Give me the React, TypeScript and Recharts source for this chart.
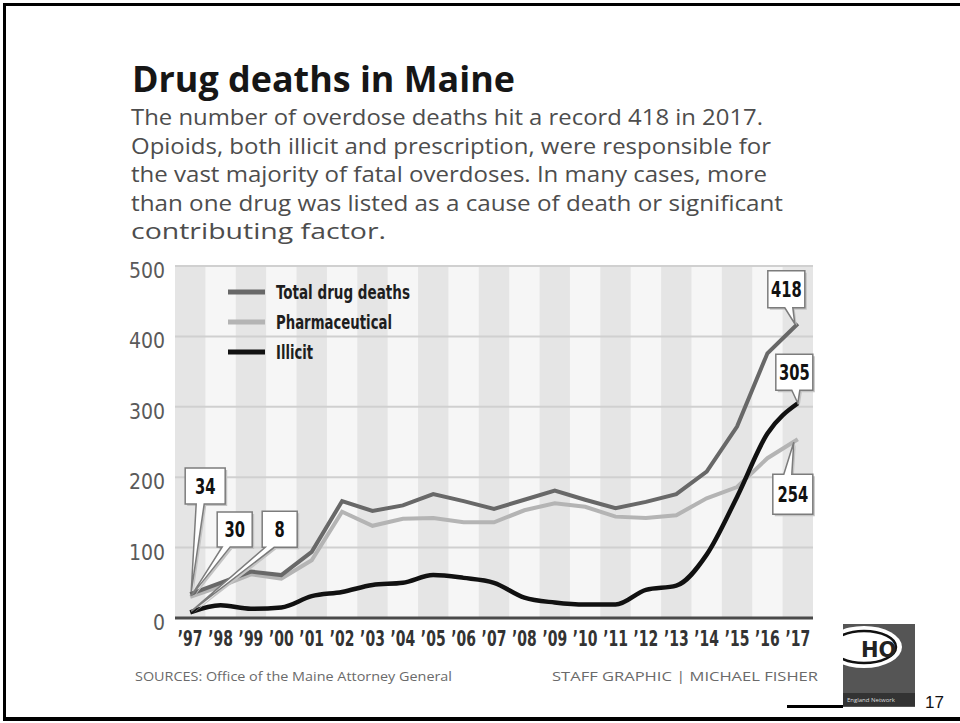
import React from 'react';
import { LineChart, Line, XAxis, YAxis, ReferenceArea, ReferenceLine, ReferenceDot, Legend } from 'recharts';

// ---------- data ----------
const YEARS = [1997, 1998, 1999, 2000, 2001, 2002, 2003, 2004, 2005, 2006, 2007, 2008, 2009, 2010, 2011, 2012, 2013, 2014, 2015, 2016, 2017];
const YEAR_LABELS = ['’97', '’98', '’99', '’00', '’01', '’02', '’03', '’04', '’05', '’06', '’07', '’08', '’09', '’10', '’11', '’12', '’13', '’14', '’15', '’16', '’17'];
const TOTAL = [34, 50, 66, 61, 94, 166, 152, 160, 176, 166, 155, 168, 181, 168, 156, 165, 176, 208, 272, 376, 418];
const PHARMA = [30, 45, 62, 56, 82, 151, 131, 141, 142, 136, 136, 153, 163, 158, 144, 142, 146, 170, 186, 227, 254];
const ILLICIT = [8, 18, 13, 15, 31, 37, 47, 50, 61, 57, 50, 29, 22, 19, 19, 40, 46, 90, 172, 262, 305];
const Y_TICKS = [0, 100, 200, 300, 400, 500];

const TITLE = 'Drug deaths in Maine';
const SUBTITLE_LINES = [
  'The number of overdose deaths hit a record 418 in 2017.',
  'Opioids, both illicit and prescription, were responsible for',
  'the vast majority of fatal overdoses. In many cases, more',
  'than one drug was listed as a cause of death or significant',
  'contributing factor.',
];
const SOURCE_TEXT = 'SOURCES: Office of the Maine Attorney General';
const CREDIT_TEXT = 'STAFF GRAPHIC | MICHAEL FISHER';
const PAGE_NUMBER = '17';

const SERIES = [
  { key: 'total', name: 'Total drug deaths', values: TOTAL },
  { key: 'pharma', name: 'Pharmaceutical', values: PHARMA },
  { key: 'illicit', name: 'Illicit', values: ILLICIT },
];

const data = YEARS.map((year, i) => ({ year, total: TOTAL[i], pharma: PHARMA[i], illicit: ILLICIT[i] }));

// ---------- styles ----------
const COLORS: Record<string, string> = { total: '#686868', pharma: '#b4b4b4', illicit: '#111111' };
const WIDTHS: Record<string, number> = { total: 4, pharma: 4, illicit: 4.5 };
const COND = "'DejaVu Sans Condensed', 'Liberation Sans Narrow', 'DejaVu Sans', sans-serif";
const SANS = "'Open Sans', 'Noto Sans', sans-serif";
const LEGEND_TEXT_LEN: Record<string, number> = { total: 134, pharma: 116, illicit: 37 };

// callout placement (pixel offsets relative to the data point)
const CALLOUTS = [
  { key: 'total', idx: 0, dx: -5, dy: -126, w: 40, h: 36, p1: 11, p2: 19, tx: 1, ty: -2, up: false },
  { key: 'pharma', idx: 0, dx: 27, dy: -85, w: 35, h: 35, p1: 5, p2: 13, tx: 1, ty: -1, up: false },
  { key: 'illicit', idx: 0, dx: 72, dy: -101, w: 35, h: 36, p1: 3, p2: 12, tx: 1, ty: -1, up: false },
  { key: 'total', idx: 20, dx: -30, dy: -53, w: 37, h: 37, p1: 17, p2: 25, tx: -3, ty: 0, up: false },
  { key: 'illicit', idx: 20, dx: -22, dy: -49, w: 37, h: 36, p1: 16, p2: 24, tx: 0, ty: 0, up: false },
  { key: 'pharma', idx: 20, dx: -25, dy: 35, w: 40, h: 40, p1: 11, p2: 19, tx: -4, ty: 3, up: true },
];

function makeCallout(c: any, label: string) {
  return (props: any) => {
    const { cx, cy } = props;
    if (cx == null || cy == null) return null;
    const bx = cx + c.dx;
    const by = cy + c.dy;
    const tipX = cx + c.tx;
    const tipY = cy + c.ty;
    const d = c.up
      ? `M${bx},${by} H${bx + c.p1} L${tipX},${tipY} L${bx + c.p2},${by} H${bx + c.w} V${by + c.h} H${bx} Z`
      : `M${bx},${by} H${bx + c.w} V${by + c.h} H${bx + c.p2} L${tipX},${tipY} L${bx + c.p1},${by + c.h} H${bx} Z`;
    const tx = bx + c.w / 2;
    const ty = by + c.h / 2 + 7.5;
    return (
      <g>
        <path d={d} transform="translate(2,2)" fill="#c4c4c4" />
        <path d={d} fill="#ffffff" stroke="#7c7c7c" strokeWidth={1.5} strokeLinejoin="miter" />
        <text
          x={0}
          y={0}
          transform={`translate(${tx},${ty}) scale(0.78,1)`}
          textAnchor="middle"
          fontFamily={COND}
          fontWeight={700}
          fontSize={21}
          fill="#111"
        >
          {label}
        </text>
      </g>
    );
  };
}

const XTick = (props: any) => {
  const { x, y, payload } = props;
  const i = YEARS.indexOf(payload.value);
  return (
    <text
      x={0}
      y={0}
      transform={`translate(${x},${y + 28}) scale(0.74,1)`}
      textAnchor="middle"
      fontFamily={COND}
      fontWeight={700}
      fontSize={21}
      fill="#333"
    >
      {YEAR_LABELS[i]}
    </text>
  );
};

const YTick = (props: any) => {
  const { x, y, payload } = props;
  return (
    <text x={x} y={y + 12} textAnchor="end" fontFamily={COND} fontSize={21} fill="#5a5a5a">
      {payload.value}
    </text>
  );
};

const LegendContent = () => (
  <svg width={260} height={100} style={{ display: 'block', overflow: 'visible' }}>
    {SERIES.map((s, i) => (
      <g key={s.key}>
        <line x1={3} x2={40} y1={16 + i * 30} y2={16 + i * 30} stroke={COLORS[s.key]} strokeWidth={5} />
        <text
          x={51}
          y={23 + i * 30}
          fontFamily={COND}
          fontWeight={700}
          fontSize={19}
          fill="#1e1e1e"
          textLength={LEGEND_TEXT_LEN[s.key]}
          lengthAdjust="spacingAndGlyphs"
        >
          {s.name}
        </text>
      </g>
    ))}
  </svg>
);

const SUB_BASELINES = [125, 153.5, 182, 210.5, 239];
const SUB_LENGTHS = [632, 640, 636, 652, 255];

export default function App() {
  return (
    <div style={{ position: 'absolute', left: 0, top: 0, width: 960, height: 723, background: '#fff', overflow: 'hidden' }}>
      <svg width={960} height={723} style={{ position: 'absolute', left: 0, top: 0 }}>
        {/* frame */}
        <rect x={3} y={3} width={957} height={3} fill="#000" />
        <rect x={3} y={3} width={3} height={718} fill="#000" />
        <rect x={3} y={717} width={957} height={4} fill="#000" />
        {/* title */}
        <text x={132} y={92} fontFamily={SANS} fontWeight={700} fontSize={36} fill="#161616" textLength={383} lengthAdjust="spacingAndGlyphs">
          {TITLE}
        </text>
        {SUBTITLE_LINES.map((t, i) => (
          <text key={i} x={131} y={SUB_BASELINES[i]} fontFamily={SANS} fontSize={21} fill="#4d4d4d" textLength={SUB_LENGTHS[i]} lengthAdjust="spacingAndGlyphs">
            {t}
          </text>
        ))}
        {/* footer */}
        <text x={135} y={681} fontFamily={SANS} fontSize={12.5} fill="#6a6a6a" textLength={317} lengthAdjust="spacingAndGlyphs">
          {SOURCE_TEXT}
        </text>
        <text x={552} y={681} fontFamily={SANS} fontSize={12.5} fill="#6a6a6a" textLength={266} lengthAdjust="spacingAndGlyphs">
          {CREDIT_TEXT}
        </text>
        {/* logo */}
        <rect x={843} y={624} width={72} height={83} fill="#555" />
        <clipPath id="logoClip">
          <rect x={843} y={624} width={72} height={83} />
        </clipPath>
        <g clipPath="url(#logoClip)">
          <ellipse cx={864} cy={647} rx={38} ry={21} fill="#fff" />
          <ellipse cx={864} cy={647} rx={32} ry={16} fill="none" stroke="#111" strokeWidth={2.5} />
          <text x={861} y={657} fontFamily="'DejaVu Sans', sans-serif" fontWeight={700} fontSize={21} fill="#222">HO</text>
          <rect x={843} y={693} width={72} height={13} fill="#333" />
          <text x={847} y={702} fontFamily={SANS} fontSize={6} fill="#ddd">England Network</text>
        </g>
        <rect x={787} y={705} width={56} height={3} fill="#000" />
        <text x={925} y={708} fontFamily="'Liberation Sans', Arial, sans-serif" fontSize={17} fill="#111">
          {PAGE_NUMBER}
        </text>
      </svg>
      <div style={{ position: 'absolute', left: 0, top: 0 }}>
        <LineChart width={960} height={723} data={data} margin={{ top: 266, right: 147, bottom: 65, left: 115 }}>
          <ReferenceArea x1={1996.5} x2={2017.5} y1={0} y2={500} fill="#f6f6f6" fillOpacity={1} stroke="none" />
          {YEARS.filter((_, i) => i % 2 === 0).map((y) => (
            <ReferenceArea key={y} x1={y - 0.5} x2={y + 0.5} y1={0} y2={500} fill="#e5e5e5" fillOpacity={1} stroke="none" />
          ))}
          {Y_TICKS.filter((v) => v > 0).map((v) => (
            <ReferenceLine key={v} y={v} stroke="#d0d0d0" strokeWidth={2} />
          ))}
          <XAxis
            dataKey="year"
            type="number"
            domain={[1996.5, 2017.5]}
            ticks={YEARS}
            interval={0}
            tickLine={false}
            tickSize={0}
            tickMargin={0}
            axisLine={{ stroke: '#4a4a4a', strokeWidth: 3 }}
            tick={<XTick />}
            height={40}
            allowDataOverflow
          />
          <YAxis
            type="number"
            domain={[0, 500]}
            ticks={Y_TICKS}
            interval={0}
            tickLine={false}
            tickSize={0}
            tickMargin={10}
            axisLine={false}
            tick={<YTick />}
            width={60}
          />
          <Legend
            layout="vertical"
            align="center"
            verticalAlign="middle"
            wrapperStyle={{ left: 225, top: 276, width: 260, height: 100 }}
            content={<LegendContent />}
          />
          <Line type="linear" dataKey="pharma" name="Pharmaceutical" stroke={COLORS.pharma} strokeWidth={WIDTHS.pharma} dot={false} activeDot={false} isAnimationActive={false} />
          <Line type="linear" dataKey="total" name="Total drug deaths" stroke={COLORS.total} strokeWidth={WIDTHS.total} dot={false} activeDot={false} isAnimationActive={false} />
          <Line type="monotone" dataKey="illicit" name="Illicit" stroke={COLORS.illicit} strokeWidth={WIDTHS.illicit} dot={false} activeDot={false} isAnimationActive={false} />
          {CALLOUTS.map((c, i) => {
            const s = SERIES.find((q) => q.key === c.key)!;
            const v = s.values[c.idx];
            return (
              <ReferenceDot
                key={i}
                x={YEARS[c.idx]}
                y={v}
                r={0}
                ifOverflow="visible"
                shape={makeCallout(c, String(v))}
              />
            );
          })}
        </LineChart>
      </div>
    </div>
  );
}
